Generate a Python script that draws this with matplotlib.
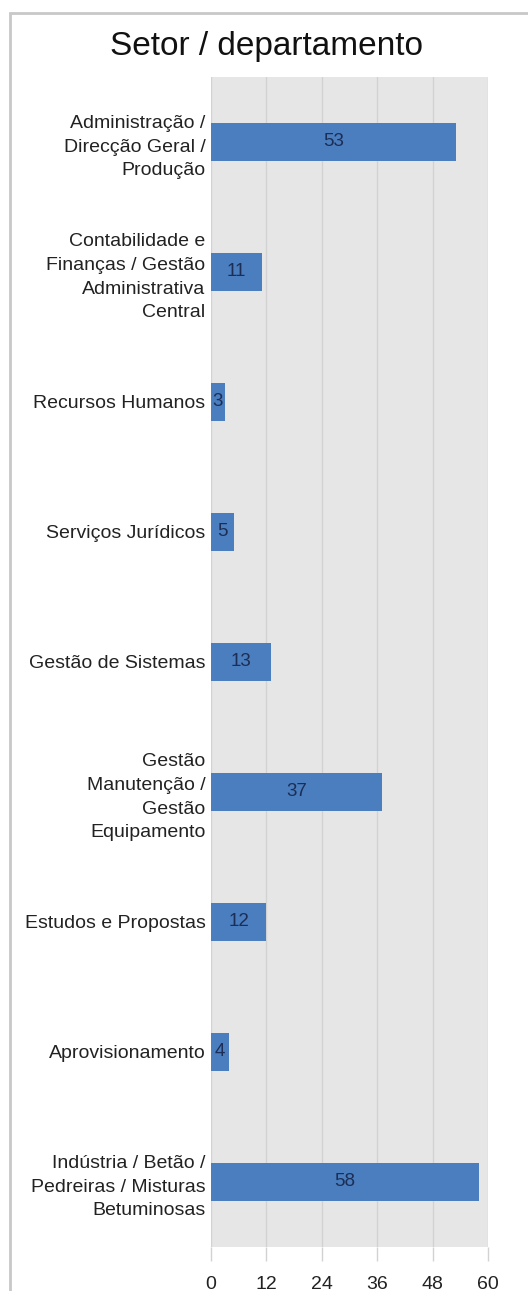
import matplotlib
matplotlib.use("Agg")
import matplotlib.pyplot as plt
from matplotlib.patches import Rectangle

categories = [
    "Administração /\nDirecção Geral /\nProdução",
    "Contabilidade e\nFinanças / Gestão\nAdministrativa\nCentral",
    "Recursos Humanos",
    "Serviços Jurídicos",
    "Gestão de Sistemas",
    "Gestão\nManutenção /\nGestão\nEquipamento",
    "Estudos e Propostas",
    "Aprovisionamento",
    "Indústria / Betão /\nPedreiras / Misturas\nBetuminosas",
]
values = [53, 11, 3, 5, 13, 37, 12, 4, 58]
xticks = [0, 12, 24, 36, 48, 60]
title = "Setor / departamento"

plt.rcParams['font.family'] = ['Liberation Sans', 'DejaVu Sans']

W, H = 528, 1291
fig = plt.figure(figsize=(W / 100, H / 100), dpi=100)
fig.patch.set_facecolor("white")

# outer frame (left and top edges visible)
fig.add_artist(Rectangle((10 / W, -0.1), 1.2, 1 - 13 / H + 0.1,
                         transform=fig.transFigure, fill=False,
                         edgecolor="#c8c8c8", linewidth=2))

left, right, top, bottom = 211 / W, 488 / W, 1 - 77 / H, 1 - 1247 / H
ax = fig.add_axes([left, bottom, right - left, top - bottom])
ax.set_facecolor("#e6e6e6")

y = list(range(len(categories)))
bars = ax.barh(y, values, height=0.29, color="#4a7ebf", zorder=3)
for b, v in zip(bars, values):
    ax.text(b.get_width() / 2, b.get_y() + b.get_height() / 2, str(v),
            ha="center", va="center", fontsize=13.5, color="#1c2e55", zorder=4)

ax.set_xlim(0, 60)
ax.set_ylim(len(categories) - 0.5, -0.5)
ax.set_xticks(xticks)
ax.set_xticklabels([str(t) for t in xticks], fontsize=14, color="#222222")
ax.set_yticks(y)
ax.set_yticklabels(categories, fontsize=14, color="#222222", linespacing=1.5)
for lbl in ax.get_yticklabels():
    lbl.set_multialignment("right")
ax.tick_params(axis="y", length=0, pad=4)
ax.tick_params(axis="x", length=10, width=1, color="#d2d2d2", pad=11)
ax.grid(axis="x", color="#d2d2d2", linewidth=1, zorder=0)
for s in ax.spines.values():
    s.set_visible(False)

fig.text(267 / W, 1 - 47 / H, title, ha="center", va="center", fontsize=24, color="#111111")

fig.savefig("out.png", dpi=100)
